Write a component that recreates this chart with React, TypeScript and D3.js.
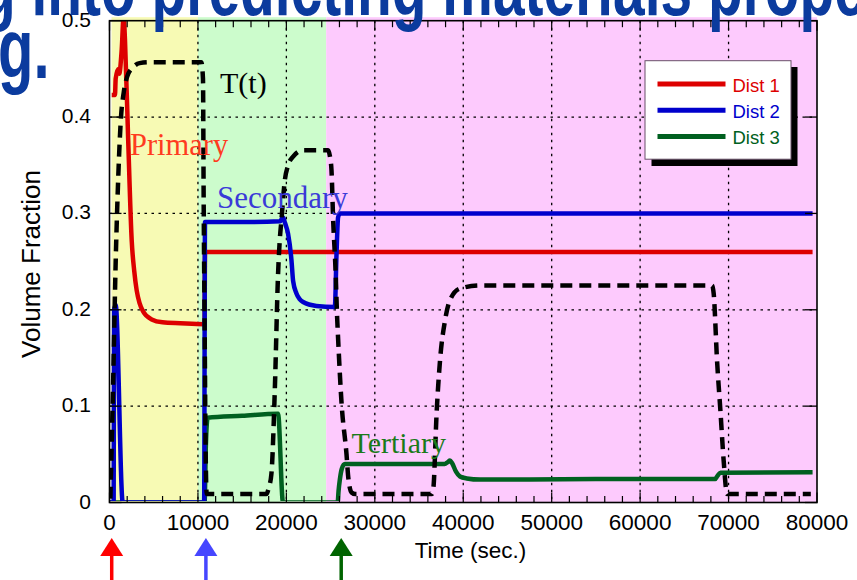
import React from 'react';
import * as d3 from 'd3';

// ---------- data ----------
const xTickValues = [0, 10000, 20000, 30000, 40000, 50000, 60000, 70000, 80000];
const xTickLabels = ['0', '10000', '20000', '30000', '40000', '50000', '60000', '70000', '80000'];
const yTickValues = [0, 0.1, 0.2, 0.3, 0.4, 0.5];
const yTickLabels = ['0', '0.1', '0.2', '0.3', '0.4', '0.5'];

const phaseBounds = [0, 10000, 24500, 80000];
const phaseColors = ['#f7fab4', '#ccfccc', '#fdcafd'];

const seriesNames = ['Dist 1', 'Dist 2', 'Dist 3'];
const seriesColors = ['#dd0000', '#0000cc', '#006020'];

const dist1: [number, number][] = [
  [250, 0.423], [620, 0.423], [700, 0.44], [1000, 0.45], [1100, 0.445], [1380, 0.47], [1600, 0.505],
  [1750, 0.48], [2100, 0.38], [2510, 0.272], [2800, 0.24], [3075, 0.22], [3400, 0.207], [3820, 0.198],
  [4770, 0.19], [6000, 0.187], [8000, 0.186], [10750, 0.185], [10800, 0.26], [79500, 0.26],
];
const dist2: [number, number][] = [
  [0, 0], [470, 0], [520, 0.2], [700, 0.205], [1500, 0], [10700, 0], [10800, 0.291], [15000, 0.291],
  [19300, 0.292], [19600, 0.296], [19850, 0.29], [20190, 0.279], [20580, 0.251], [20760, 0.23],
  [21140, 0.217], [21500, 0.211], [21890, 0.208], [23400, 0.204], [25480, 0.203], [25670, 0.258],
  [25850, 0.296], [26050, 0.3], [79500, 0.3],
];
const dist3: [number, number][] = [
  [0, 0], [10750, 0], [10900, 0.06], [11100, 0.088], [15000, 0.09], [19060, 0.092], [19620, 0],
  [25800, 0], [25900, 0.012], [26050, 0.024], [26270, 0.035], [26610, 0.04], [30000, 0.04],
  [37900, 0.04], [38250, 0.042], [38500, 0.0435], [38730, 0.041], [39180, 0.032], [39630, 0.027],
  [40400, 0.025], [41900, 0.0238], [55000, 0.0243], [68500, 0.0243], [68700, 0.027], [69080, 0.031],
  [79500, 0.0315],
];
const temperature: [number, number][] = [
  [100, 0.004], [400, 0.12], [700, 0.25], [1000, 0.34], [1300, 0.4], [1600, 0.425], [2000, 0.442],
  [2700, 0.452], [3400, 0.456], [4500, 0.457], [10380, 0.457], [10570, 0.44], [10650, 0.31],
  [10760, 0.18], [10870, 0.055], [10990, 0.009], [11200, 0.0087], [17740, 0.0087], [18000, 0.015],
  [18310, 0.03], [18690, 0.116], [19060, 0.237], [19250, 0.272], [19440, 0.293], [19820, 0.334],
  [20200, 0.35], [20760, 0.359], [21890, 0.3656], [24720, 0.3656], [24910, 0.36], [25100, 0.345],
  [25290, 0.293], [25560, 0.241], [25740, 0.192], [25850, 0.17], [26240, 0.103], [26800, 0.05],
  [27000, 0.026], [27370, 0.0104], [27800, 0.0087], [36430, 0.0087], [36610, 0.014], [37000, 0.095],
  [37370, 0.147], [37940, 0.189], [38500, 0.21], [39630, 0.222], [41900, 0.2253], [68140, 0.2253],
  [68320, 0.2166], [68700, 0.147], [69080, 0.095], [69450, 0.043], [69835, 0.0087], [79300, 0.0087],
];
const phaseLabels = ['Primary', 'Secondary', 'Tertiary'];
const phaseLabelColors = ['#ff3b1f', '#3a3ad8', '#1a7a1a'];
const arrowTimes = [250, 10900, 26200];
const arrowColors = ['#ff0000', '#4646ff', '#006400'];

// ---------- layout ----------
const W = 857, H = 580;
const left = 109.5, right = 817, top = 20.7, bottom = 502.5;

export default function App() {
  const x = d3.scaleLinear().domain([0, 80000]).range([left, right]);
  const y = d3.scaleLinear().domain([0, 0.5]).range([bottom, top]);
  const line = d3.line<[number, number]>().x(d => x(d[0])).y(d => y(d[1])).curve(d3.curveMonotoneX);
  const minorX = d3.range(0, 80001, 2000);
  const sans = '"Liberation Sans", Arial, sans-serif';
  const serif = '"Liberation Serif", "Times New Roman", serif';

  return (
    <svg width={W} height={H} style={{ position: 'absolute', left: 0, top: 0, background: '#fff' }}>
      <defs>
        <clipPath id="plotClip">
          <rect x={left} y={top} width={right - left} height={bottom - top - 1.5} />
        </clipPath>
      </defs>
      {/* phase backgrounds */}
      {phaseColors.map((c, i) => (
        <rect key={i} x={x(phaseBounds[i]) + (i === 0 ? 2 : 0)} y={top - 3.5}
          width={x(phaseBounds[i + 1]) - x(phaseBounds[i]) - (i === 0 ? 2 : 0)}
          height={bottom - top + 3.5} fill={c} />
      ))}
      {/* grid */}
      {xTickValues.slice(1, -1).map(v => (
        <line key={'gx' + v} x1={x(v)} x2={x(v)} y1={top} y2={bottom} stroke="#000" strokeWidth={1.3} strokeDasharray="2.5,4.5" />
      ))}
      {yTickValues.slice(1, -1).map(v => (
        <line key={'gy' + v} x1={left} x2={right} y1={y(v)} y2={y(v)} stroke="#000" strokeWidth={1.3} strokeDasharray="2.5,4.5" />
      ))}
      {/* series */}
      <g clipPath="url(#plotClip)" fill="none" strokeLinejoin="round">
        <path d={line(dist1) || ''} stroke={seriesColors[0]} strokeWidth={4.5} />
        <path d={line(dist3) || ''} stroke={seriesColors[2]} strokeWidth={4.5} />
        <path d={line(dist2) || ''} stroke={seriesColors[1]} strokeWidth={4.5} />
        <path d={line(temperature) || ''} stroke="#000" strokeWidth={4.5} strokeDasharray="12,7" />
      </g>
      {/* axes frame and ticks */}
      <rect x={left} y={top} width={right - left} height={bottom - top} fill="none" stroke="#000" strokeWidth={1.6} />
      {minorX.map(v => {
        const len = v % 10000 === 0 ? 10 : 6.5;
        return (
          <g key={'t' + v}>
            <line x1={x(v)} x2={x(v)} y1={bottom} y2={bottom - len} stroke="#000" strokeWidth={1.2} />
            <line x1={x(v)} x2={x(v)} y1={top} y2={top + len} stroke="#000" strokeWidth={1.2} />
          </g>
        );
      })}
      {yTickValues.map(v => (
        <g key={'yt' + v}>
          <line x1={left} x2={left + 12} y1={y(v)} y2={y(v)} stroke="#000" strokeWidth={1.3} />
          <line x1={right - 12} x2={right} y1={y(v)} y2={y(v)} stroke="#000" strokeWidth={1.3} />
        </g>
      ))}
      {/* tick labels */}
      {yTickValues.map((v, i) => (
        <text key={'yl' + v} x={91} y={y(v) + 6} textAnchor="end" fontFamily={sans} fontSize={21} fill="#000">{yTickLabels[i]}</text>
      ))}
      {xTickValues.map((v, i) => (
        <text key={'xl' + v} x={x(v)} y={529.5} textAnchor="middle" fontFamily={sans} fontSize={22.5} fill="#000">{xTickLabels[i]}</text>
      ))}
      <text x={470.5} y={558} textAnchor="middle" fontFamily={sans} fontSize={22.5} fill="#000">Time (sec.)</text>
      <text transform="translate(40,264) rotate(-90)" textAnchor="middle" fontFamily={sans} fontSize={25}
        textLength={188} lengthAdjust="spacingAndGlyphs" fill="#000">Volume Fraction</text>
      {/* annotations */}
      <text x={220} y={93} fontFamily={serif} fontSize={30} fill="#000">T(t)</text>
      <text x={130} y={155} fontFamily={serif} fontSize={30.5} fill={phaseLabelColors[0]}>{phaseLabels[0]}</text>
      <text x={217} y={208} fontFamily={serif} fontSize={31} fill={phaseLabelColors[1]}>{phaseLabels[1]}</text>
      <text x={351.5} y={452.5} fontFamily={serif} fontSize={30} fill={phaseLabelColors[2]}>{phaseLabels[2]}</text>
      {/* legend */}
      <g>
        <rect x={651.5} y={67} width={146} height={99} fill="#000" />
        <rect x={645} y={60.7} width={146} height={98.5} fill="#fff" stroke="#6a506a" strokeWidth={1} />
        {seriesNames.map((n, i) => (
          <g key={n}>
            <line x1={657.5} x2={725.5} y1={84 + i * 26.3} y2={84 + i * 26.3} stroke={seriesColors[i]} strokeWidth={5} />
            <text x={732.5} y={91.5 + i * 26.3} fontFamily={sans} fontSize={18.5} fill={seriesColors[i]}>{n}</text>
          </g>
        ))}
      </g>
      {/* arrows */}
      {arrowTimes.map((t, i) => (
        <g key={'a' + i}>
          <polygon points={`${x(t)},538 ${x(t) - 11.5},556 ${x(t) + 11.5},556`} fill={arrowColors[i]} />
          <line x1={x(t)} x2={x(t)} y1={555} y2={580} stroke={arrowColors[i]} strokeWidth={3.5} />
        </g>
      ))}
      {/* slide title fragments */}
      <text transform="translate(-19,15) scale(1,1.5)" fontFamily={sans} fontWeight="bold" fontSize={54}
        fill="#0b3b9e" textLength={885} lengthAdjust="spacingAndGlyphs">g into predicting materials prope</text>
      <text transform="translate(-2,78) scale(1,1.45)" fontFamily={sans} fontWeight="bold" fontSize={58} fill="#0b3b9e">g.</text>
    </svg>
  );
}
